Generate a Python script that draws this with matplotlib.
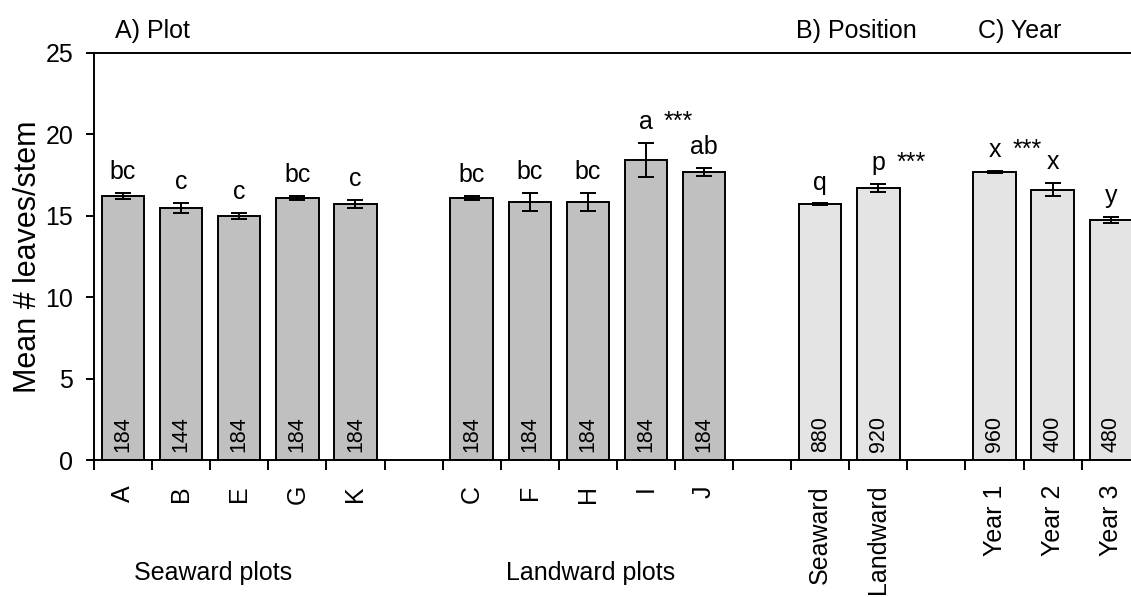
import matplotlib
matplotlib.use("Agg")
import matplotlib.pyplot as plt
import numpy as np

plt.rcParams['font.family'] = ['Liberation Sans', 'DejaVu Sans']

# ---- data ----
plot_labels = ['A', 'B', 'E', 'G', 'K', 'C', 'F', 'H', 'I', 'J']
plot_means = [16.2, 15.5, 15.0, 16.1, 15.75, 16.1, 15.85, 15.85, 18.45, 17.7]
plot_se = [0.18, 0.3, 0.2, 0.12, 0.25, 0.13, 0.57, 0.57, 1.05, 0.25]
plot_n = [184, 144, 184, 184, 184, 184, 184, 184, 184, 184]
plot_letters = ['bc', 'c', 'c', 'bc', 'c', 'bc', 'bc', 'bc', 'a', 'ab']
plot_stars = ['', '', '', '', '', '', '', '', '***', '']

position_labels = ['Seaward', 'Landward']
position_means = [15.7, 16.7]
position_se = [0.06, 0.25]
position_n = [880, 920]
position_letters = ['q', 'p']
position_stars = ['', '***']

year_labels = ['Year 1', 'Year 2', 'Year 3']
year_means = [17.7, 16.6, 14.75]
year_se = [0.07, 0.4, 0.2]
year_n = [960, 400, 480]
year_letters = ['x', 'x', 'y']
year_stars = ['***', '', '']

dark = '#C0C0C0'
light = '#E4E4E4'

# slot layout: seaward plots (5), gap, landward plots (5), gap, position (2), gap, year (3)
slots_plot = list(range(0, 5)) + list(range(6, 11))
slots_pos = [12, 13]
slots_year = [15, 16, 17]

LW = 1.4

fig = plt.figure(figsize=(11.31, 5.97), dpi=100)
ax = fig.add_axes([94 / 1131, 1 - 460 / 597, 18 * 58.1 / 1131, (460 - 53) / 597])

groups = [
    (slots_plot, plot_labels, plot_means, plot_se, plot_n, plot_letters, plot_stars, dark),
    (slots_pos, position_labels, position_means, position_se, position_n, position_letters, position_stars, light),
    (slots_year, year_labels, year_means, year_se, year_n, year_letters, year_stars, light),
]

all_x = []
all_lab = []
for slots, labels, means, se, ns, letters, stars, col in groups:
    x = np.array(slots) + 0.5
    ax.bar(x, means, width=0.73, color=col, edgecolor='black', linewidth=LW, zorder=2)
    ax.errorbar(x, means, yerr=se, fmt='none', ecolor='black', elinewidth=LW,
                capsize=5.5, capthick=LW, zorder=3)
    for xi, m, s, n, let, st in zip(x, means, se, ns, letters, stars):
        ax.annotate(let, (xi, m + s), xytext=(0, 10), textcoords='offset points',
                    ha='center', va='baseline', fontsize=18)
        if st:
            ax.annotate(st, (xi + 0.31, m + s), xytext=(0, 10), textcoords='offset points',
                        ha='left', va='baseline', fontsize=18)
        ax.text(xi, 0.5, str(n), rotation=90, ha='center', va='bottom', fontsize=15.5, zorder=4)
    all_x.extend(x)
    all_lab.extend(labels)

ax.set_xlim(0, 18)
ax.set_ylim(0, 25)
ax.set_yticks([0, 5, 10, 15, 20, 25])
ax.tick_params(axis='y', labelsize=18, length=6, width=LW, direction='out', pad=9)
ax.set_xticks(np.arange(0, 19))
ax.set_xticklabels([])
ax.tick_params(axis='x', which='major', length=7, width=LW, direction='out')
ax.set_xticks(all_x, minor=True)
ax.set_xticklabels(all_lab, minor=True, rotation=90, fontsize=18, va='top', ha='center')
ax.tick_params(axis='x', which='minor', length=0, pad=18)

for sp in ['left', 'bottom', 'top']:
    ax.spines[sp].set_linewidth(LW)
ax.spines['right'].set_visible(False)

ax.set_ylabel('Mean # leaves/stem', fontsize=22, labelpad=2)

# panel titles
ax.text(0.36, 25.95, 'A) Plot', fontsize=18, ha='left', va='baseline')
ax.text(12.09, 25.95, 'B) Position', fontsize=18, ha='left', va='baseline')
ax.text(15.21, 25.95, 'C) Year', fontsize=18, ha='left', va='baseline')

# group labels under plots
ax.text(2.05, -7.35, 'Seaward plots', fontsize=18, ha='center', va='baseline')
ax.text(8.54, -7.35, 'Landward plots', fontsize=18, ha='center', va='baseline')

fig.savefig('out.png', dpi=100)
